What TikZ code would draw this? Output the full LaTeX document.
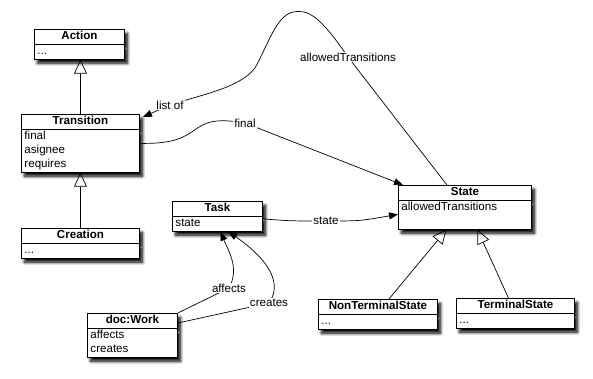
\documentclass[tikz,border=0pt]{standalone}
\usepackage{fontspec}
\setmainfont{Liberation Sans}
\usetikzlibrary{shapes.multipart,shadows.blur,arrows.meta,calc}

\newcommand\umlfont{\fontsize{11.6}{14}\selectfont}
\newcommand\classname[1]{\strut\hskip0pt plus1fil\textbf{#1}\strut}

\tikzset{
  umlclass/.style={rectangle split, rectangle split parts=2, draw, line width=0.9pt,
    fill=white, align=left, inner xsep=3pt, inner ysep=0pt, anchor=north west,
    font=\umlfont,
    blur shadow={shadow xshift=3pt, shadow yshift=-4pt, shadow opacity=100,
      shadow blur radius=3pt, shadow blur steps=8}},
  lbl/.style={fill=white, inner sep=1pt, font=\umlfont},
  inherit/.style={line width=0.7pt, -{Triangle[open,length=14pt,width=13pt]}},
  assoc/.style={line width=0.7pt, -{Triangle[length=9pt,width=7pt]}}
}

\begin{document}
\begin{tikzpicture}[x=1pt,y=-1pt]
\useasboundingbox (0,0) rectangle (593,379);

% classes
\node[umlclass, text width=84pt] (action) at (34,29) {\classname{Action}\nodepart{two}\strut...\strut};
\node[umlclass, text width=112pt] (transition) at (21,114) {\classname{Transition}\nodepart{two}\strut final\\asignee\\requires\strut};
\node[umlclass, text width=112pt] (creation) at (21,228) {\classname{Creation}\nodepart{two}\strut...\strut};
\node[umlclass, text width=84pt] (task) at (172,201) {\classname{Task}\nodepart{two}\strut state\strut};
\node[umlclass, text width=84pt] (work) at (87,313) {\classname{doc:Work}\nodepart{two}\strut affects\\creates\strut};
\node[umlclass, text width=127pt] (state) at (398,185) {\classname{State}\nodepart{two}\strut allowedTransitions\\\strut};
\node[umlclass, text width=113pt] (nonterm) at (318,299) {\classname{NonTerminalState}\nodepart{two}\strut...\strut};
\node[umlclass, text width=112pt] (term) at (456,298) {\classname{TerminalState}\nodepart{two}\strut...\strut};

% generalisations
\draw[inherit] (transition.north) -- (transition.north |- action.south);
\draw[inherit] (creation.north) -- (creation.north |- transition.south);
\draw[inherit] ($(nonterm.north)+(11,0)$) -- ($(state.south)+(-18.5,0)$);
\draw[inherit] ($(term.north)+(-7,0)$) -- ($(state.south)+(12.5,0)$);

% associations
\draw[assoc] (transition.east) .. controls (210,145) and (182,112) .. (245,123) node[lbl] {final}
  -- ($(state.north west)+(5,0)$);
\draw[assoc] ($(state.north)+(-18,0)$) -- (348,57) node[lbl] {allowedTransitions}
  .. controls (320,16) and (308,9) .. (293,12)
  .. controls (276,16) and (268,45) .. (255,68)
  .. controls (240,88) and (200,95) .. (170,105) node[lbl] {list of}
  -- ($(transition.north east)+(3,3)$);
\draw[assoc] ($(task.east)+(0,2.5)$) .. controls (290,221) .. (326,221) node[lbl] {state}
  .. controls (360,221) .. ($(state.west)+(0,7)$);
\draw[assoc] (work.north east) -- (229,288) node[lbl] {affects}
  .. controls (240,268) and (228,250) .. ($(task.south)+(3,0)$);
\draw[assoc] ($(work.north east)+(0,10)$) -- (269,303) node[lbl] {creates}
  .. controls (285,280) and (262,255) .. ($(task.south)+(11,0)$);
\end{tikzpicture}
\end{document}
